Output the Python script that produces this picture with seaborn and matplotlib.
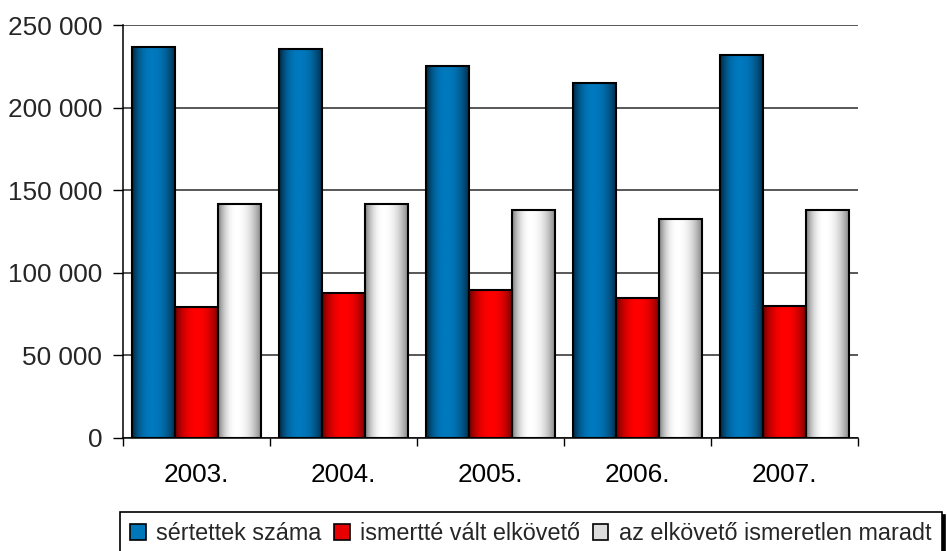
import numpy as np
import pandas as pd
import seaborn as sns
import matplotlib
matplotlib.use("Agg")
import matplotlib.pyplot as plt
from matplotlib.patches import Patch
from matplotlib.colors import LinearSegmentedColormap
from matplotlib.ticker import FuncFormatter

years = ["2003.", "2004.", "2005.", "2006.", "2007."]
series_names = ["sértettek száma", "ismertté vált elkövető", "az elkövető ismeretlen maradt"]
sertettek = [236500, 235700, 225400, 214700, 232000]
ismert = [79500, 87600, 89600, 84800, 80100]
ismeretlen = [141700, 141500, 138000, 132800, 138200]
yticks = [0, 50000, 100000, 150000, 200000, 250000]

rows = []
for name, vals in zip(series_names, [sertettek, ismert, ismeretlen]):
    for y, v in zip(years, vals):
        rows.append({"year": y, "series": name, "value": v})
df = pd.DataFrame(rows)

sns.set_style("white")
plt.rcParams["font.family"] = ["Liberation Sans", "DejaVu Sans"]

fig = plt.figure(figsize=(9.47, 5.51), dpi=100)
ax = fig.add_axes([0.1299, 0.2051, 0.906 - 0.1299, 0.9546 - 0.2051])

mid_colors = ["#0077B8", "#E00000", "#D8D8D8"]
sns.barplot(data=df, x="year", y="value", hue="series", order=years,
            hue_order=series_names, palette=mid_colors, width=0.88,
            edgecolor="black", linewidth=1.5, ax=ax, legend=False, errorbar=None)

# gradient fills
grad_specs = [
    ("#00263F", "#0079BE", 0.45),
    ("#6E0000", "#FF0000", 0.5),
    ("#7A7A7A", "#FFFFFF", 0.42),
]
t = np.linspace(0, 1, 256)
for cont, (dark, bright, c) in zip(ax.containers, grad_specs):
    d = np.where(t < c, (c - t) / c, (t - c) / (1 - c))
    f = 1 - np.abs(d) ** 2.2
    cmap = LinearSegmentedColormap.from_list("g", [dark, bright])
    for p in cont.patches:
        x0 = p.get_x(); w = p.get_width(); h = p.get_height()
        im = ax.imshow(f[np.newaxis, :], extent=[x0, x0 + w, 0, h], aspect="auto",
                       cmap=cmap, vmin=0, vmax=1, zorder=2, interpolation="bilinear")
        im.set_clip_path(p)
        p.set_facecolor("none")
        p.set_zorder(3)

ax.set_xlim(-0.5, 4.5)
ax.set_ylim(0, 250000)
ax.set_yticks(yticks)
ax.yaxis.set_major_formatter(FuncFormatter(lambda v, pos: f"{int(v):,}".replace(",", " ")))
ax.set_axisbelow(True)
ax.yaxis.grid(True, color="#2a2a2a", linewidth=1.1)
ax.xaxis.grid(False)

ax.set_xticks(range(len(years)))
ax.set_xticklabels(years)
ax.set_xticks(np.arange(-0.5, 5.0, 1.0), minor=True)
ax.tick_params(axis="x", which="major", length=0, pad=18, labelsize=18.8, colors="black")
ax.tick_params(axis="x", which="minor", length=6, width=1, direction="out", color="black", bottom=True)
ax.tick_params(axis="y", which="major", length=7, width=1, direction="out", pad=8,
               labelsize=18.8, color="black", left=True)

for s in ["top", "right"]:
    ax.spines[s].set_visible(False)
for s in ["left", "bottom"]:
    ax.spines[s].set_color("black")
    ax.spines[s].set_linewidth(1.1)
ax.set_xlabel("")
ax.set_ylabel("")

handles = [Patch(facecolor=col, edgecolor="black", linewidth=1.2) for col in ["#0077B8", "#E80000", "#DCDCDC"]]
leg = fig.legend(handles, series_names, loc="upper right", bbox_to_anchor=(0.9947, 0.0708),
                 ncol=3, frameon=True, fancybox=False, edgecolor="black", fontsize=16.8,
                 handlelength=0.66, handleheight=0.66, handletextpad=0.45, columnspacing=0.55,
                 borderpad=0.45, borderaxespad=0, shadow={"color": "black", "alpha": 1})
leg.get_frame().set_linewidth(1.2)

fig.savefig("out.png", dpi=100)
